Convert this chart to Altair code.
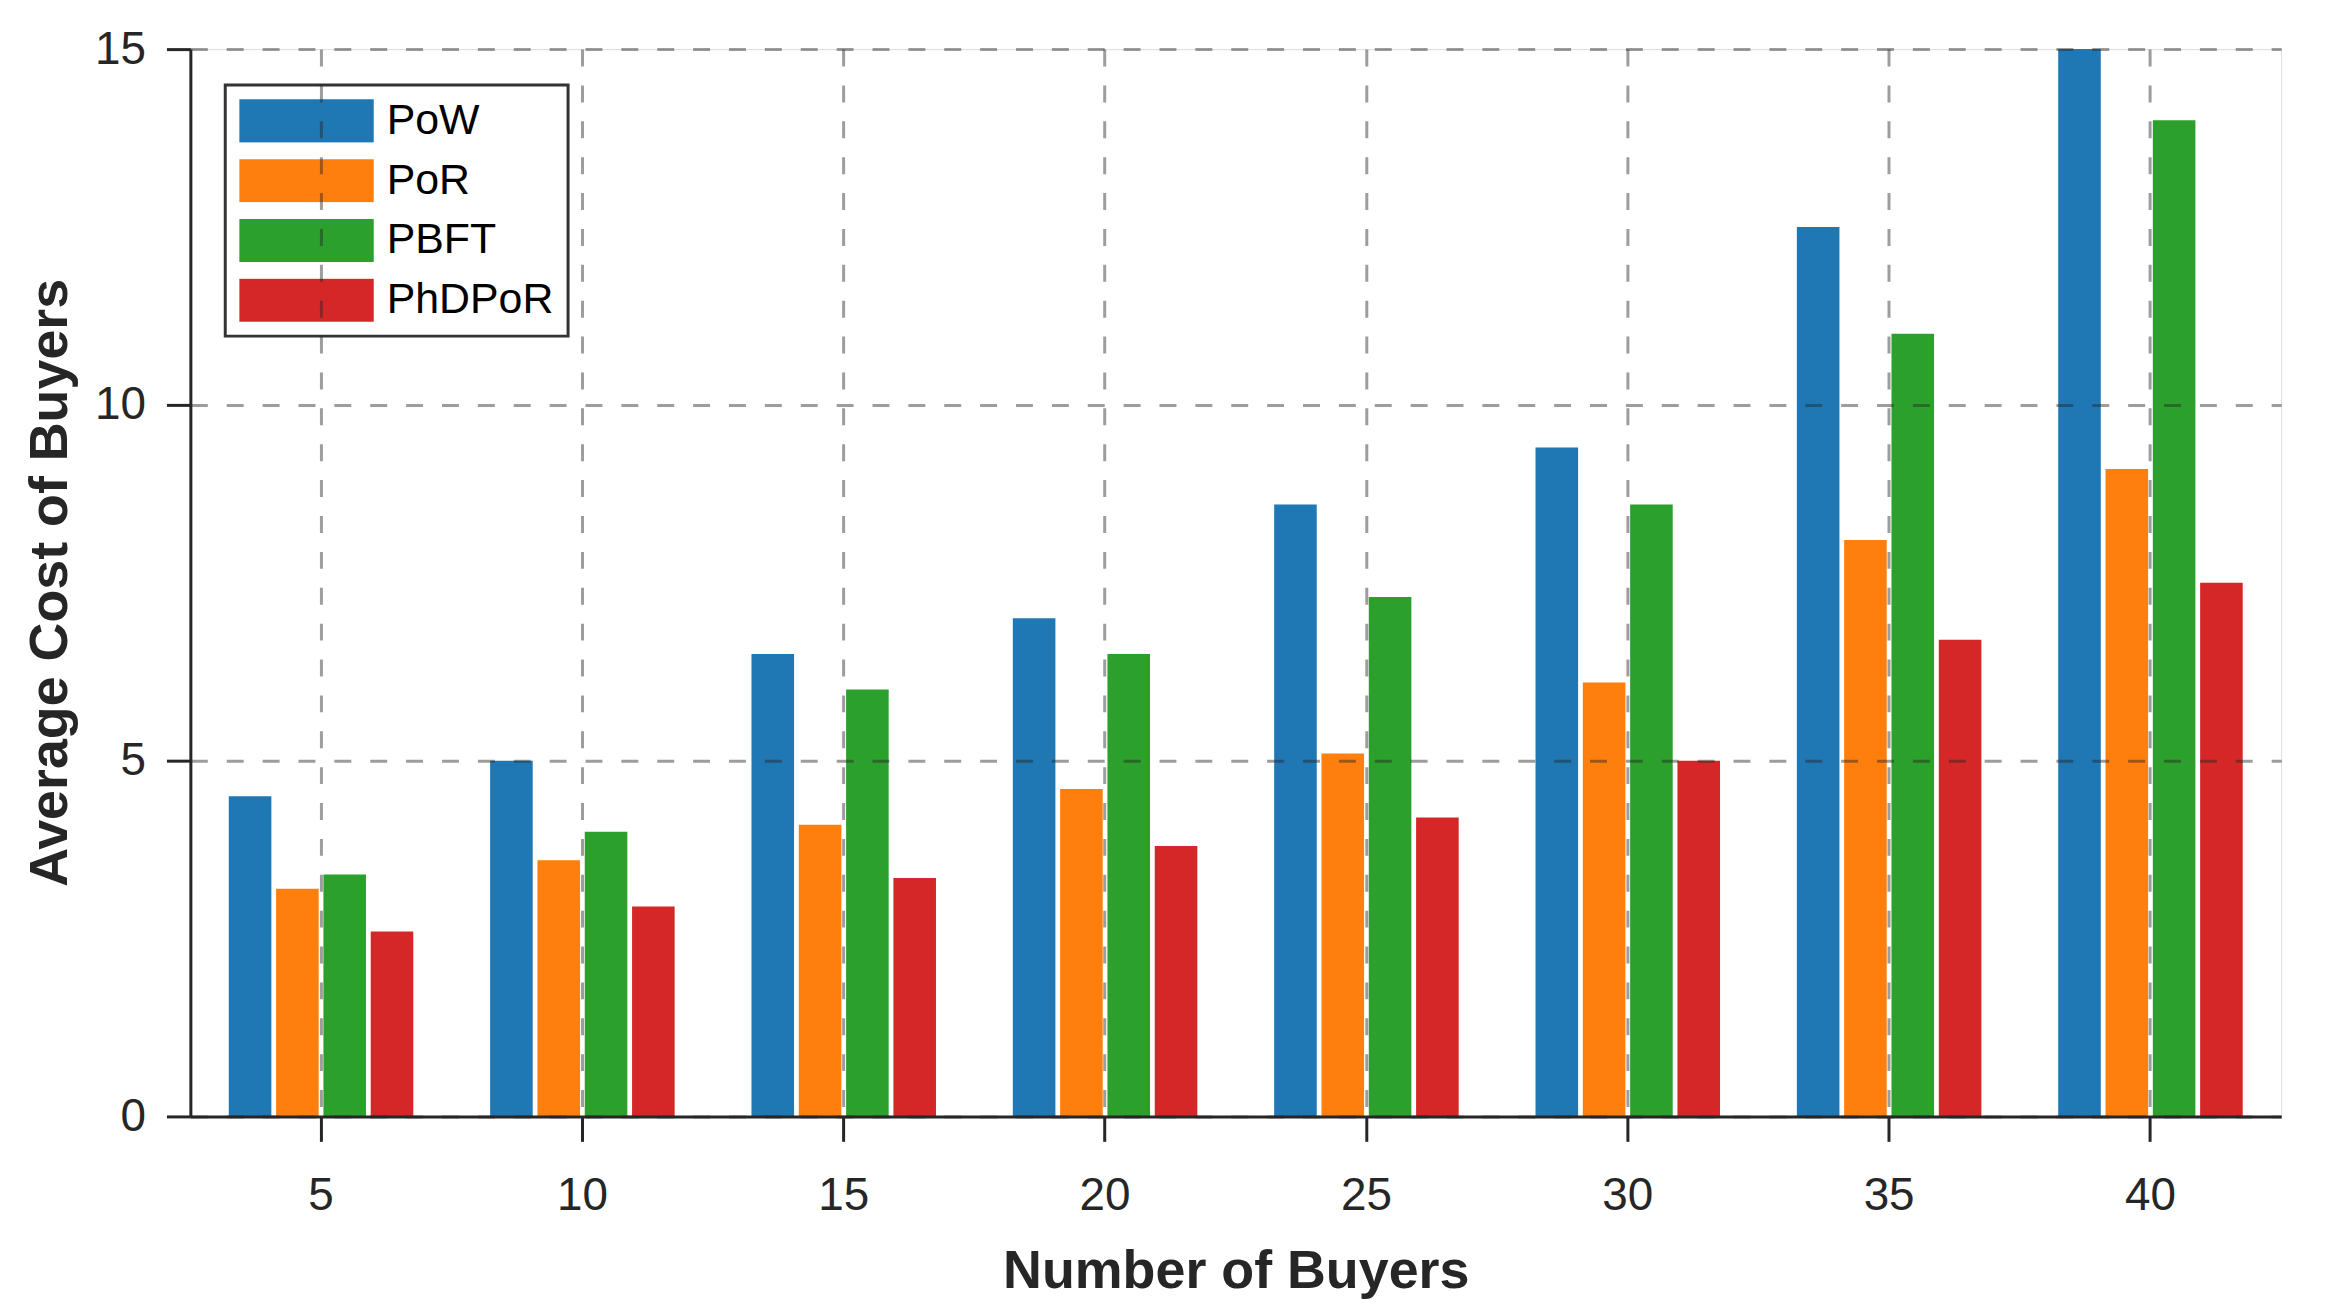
import altair as alt
import pandas as pd

buyers = [5, 10, 15, 20, 25, 30, 35, 40]
methods = ["PoW", "PoR", "PBFT", "PhDPoR"]
colors = ["#1f77b4", "#ff7f0e", "#2ca02c", "#d62728"]

pow_vals = [4.5, 5.0, 6.5, 7.0, 8.6, 9.4, 12.5, 15.0]
por_vals = [3.2, 3.6, 4.1, 4.6, 5.1, 6.1, 8.1, 9.1]
pbft_vals = [3.4, 4.0, 6.0, 6.5, 7.3, 8.6, 11.0, 14.0]
phdpor_vals = [2.6, 2.95, 3.35, 3.8, 4.2, 5.0, 6.7, 7.5]

series = {"PoW": pow_vals, "PoR": por_vals, "PBFT": pbft_vals, "PhDPoR": phdpor_vals}
rows = []
for m in methods:
    for b, v in zip(buyers, series[m]):
        rows.append({"buyers": b, "method": m, "cost": v})
df = pd.DataFrame(rows)

FONT = "Liberation Sans"
TXT = "#262626"

chart = alt.Chart(df).mark_bar().encode(
    x=alt.X(
        "buyers:O",
        sort=buyers,
        scale=alt.Scale(paddingInner=0.294, paddingOuter=0.147),
        axis=alt.Axis(
            title="Number of Buyers",
            labelAngle=0,
            bandPosition=0.5,
            grid=True,
            gridDash=[17, 19],
            gridColor="#262626",
            gridOpacity=0.45,
            gridWidth=3,
            tickSize=25,
            tickWidth=3,
            tickColor=TXT,
            domainColor=TXT,
            domainWidth=3,
            labelFontSize=46,
            labelFont=FONT,
            labelColor=TXT,
            labelPadding=32,
            titleFont=FONT,
            titleFontSize=54,
            titleFontWeight="bold",
            titleColor=TXT,
            titleBaseline="alphabetic",
            titleY=172,
            zindex=1,
        ),
    ),
    xOffset=alt.XOffset("method:N", sort=methods, scale=alt.Scale(paddingInner=0.1)),
    y=alt.Y(
        "cost:Q",
        scale=alt.Scale(domain=[0, 15], nice=False),
        axis=alt.Axis(
            title="Average Cost of Buyers",
            values=[0, 5, 10, 15],
            grid=True,
            gridDash=[17, 19],
            gridColor="#262626",
            gridOpacity=0.45,
            gridWidth=3,
            tickSize=24,
            tickWidth=3,
            tickColor=TXT,
            domainColor=TXT,
            domainWidth=3,
            labelFontSize=46,
            labelFont=FONT,
            labelColor=TXT,
            labelPadding=21,
            titleFont=FONT,
            titleFontSize=54,
            titleFontWeight="bold",
            titleColor=TXT,
            titleBaseline="alphabetic",
            titleAngle=-90,
            titleX=-124,
            titleY=535,
            zindex=1,
        ),
    ),
    color=alt.Color(
        "method:N",
        sort=methods,
        scale=alt.Scale(domain=methods, range=colors),
        legend=alt.Legend(
            title=None,
            orient="none",
            legendX=35,
            legendY=36,
            fillColor="white",
            strokeColor="#333333",
            symbolType="M-1,-0.32H1V0.32H-1Z",
            symbolSize=18225,
            symbolStrokeWidth=0,
            symbolOpacity=1,
            clipHeight=44,
            labelOffset=13,
            labelFontSize=43,
            labelFont=FONT,
            labelColor="black",
            labelLimit=600,
        ),
    ),
).properties(
    width=2098,
    height=1071,
    autosize=alt.AutoSizeParams(type="none"),
    padding={"left": 183, "top": 39, "right": 39, "bottom": 195},
).configure_view(stroke=None).configure(background="white", font=FONT).configure_legend(
    padding=14, rowPadding=16, strokeWidth=3
)

chart.save("out.html", embed_options={"renderer": "svg", "actions": False})
